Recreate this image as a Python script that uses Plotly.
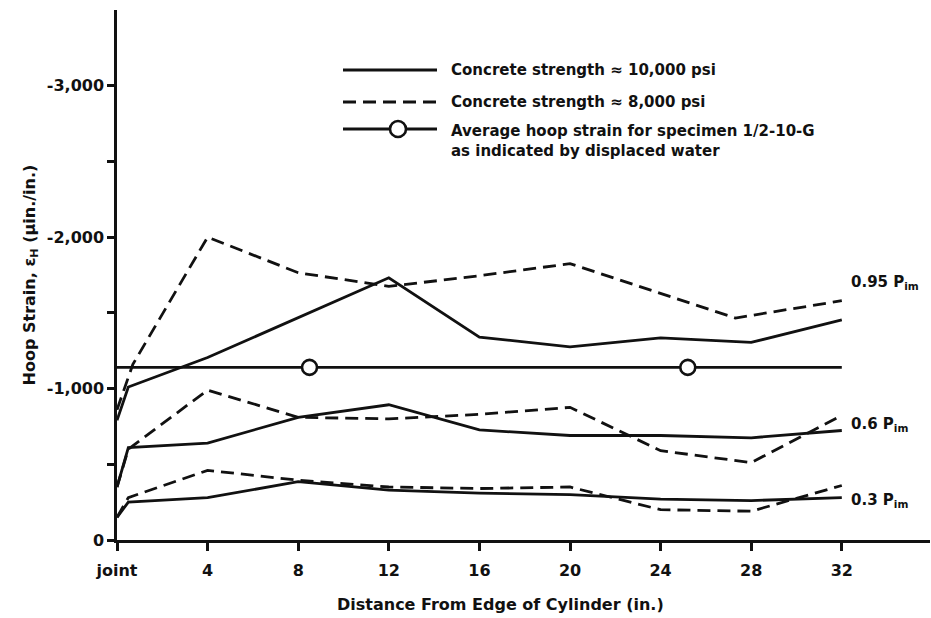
import plotly.graph_objects as go

# ---- data ----
x_pts = [0, 0.5, 4, 8, 12, 16, 20, 24, 28, 32]

s095_solid = [-790, -1010, -1205, -1470, -1732, -1340, -1275, -1335, -1305, -1453]
x095_dash = [0, 0.7, 4, 8, 12, 16, 20, 24, 27.3, 32]
s095_dash = [-860, -1160, -2000, -1765, -1675, -1745, -1825, -1630, -1466, -1580]

s06_solid = [-350, -610, -640, -810, -893, -727, -690, -690, -675, -723]
s06_dash = [-350, -600, -990, -810, -800, -830, -876, -590, -511, -823]

s03_solid = [-150, -250, -280, -385, -330, -310, -300, -270, -260, -280]
s03_dash = [-150, -280, -460, -395, -350, -340, -350, -200, -190, -360]

avg_x = [0, 32]
avg_val = [-1140, -1140]
avg_marker_x = [8.5, 25.2]
avg_marker_val = [-1140, -1140]

x_ticks = [0, 4, 8, 12, 16, 20, 24, 28, 32]
x_ticktext = ["joint", "4", "8", "12", "16", "20", "24", "28", "32"]
y_ticks = [0, -1000, -2000, -3000]
y_ticktext = ["0", "-1,000", "-2,000", "-3,000"]
y_minor_ticks = [-500, -1500, -2500]

load_labels = ["0.95 P<sub>im</sub>", "0.6 P<sub>im</sub>", "0.3 P<sub>im</sub>"]
load_label_vals = [-1700, -760, -260]

legend_texts = ["Concrete strength \u2248 10,000 psi",
                "Concrete strength \u2248 8,000 psi",
                "Average hoop strain for specimen 1/2-10-G<br>as indicated by displaced water"]
x_title = "Distance From Edge of Cylinder (in.)"
y_title = "Hoop Strain, \u03b5<sub>H</sub> (\u03bcin./in.)"

# ---- styling ----
FONT = "DejaVu Sans"
INK = "#111111"
LW = 2.8
DASH = "13px,7px"

fig = go.Figure()

def add_line(x, y, dash):
    fig.add_trace(go.Scatter(x=x, y=y, mode="lines",
                             line=dict(color=INK, width=LW, dash=dash),
                             showlegend=False, hoverinfo="skip"))

add_line(x_pts, s095_solid, "solid")
add_line(x095_dash, s095_dash, DASH)
add_line(x_pts, s06_solid, "solid")
add_line(x_pts, s06_dash, DASH)
add_line(x_pts, s03_solid, "solid")
add_line(x_pts, s03_dash, DASH)
add_line(avg_x, avg_val, "solid")
fig.add_trace(go.Scatter(x=avg_marker_x, y=avg_marker_val, mode="markers",
                         marker=dict(symbol="circle", size=15, color="white",
                                     line=dict(color=INK, width=2.6)),
                         showlegend=False, hoverinfo="skip"))

# right-hand load labels
for txt, v in zip(load_labels, load_label_vals):
    fig.add_annotation(x=32.3, y=v, xref="x", yref="y", text=txt, showarrow=False,
                       xanchor="left", yanchor="middle",
                       font=dict(family=FONT, size=15, color=INK, weight="bold"))

# manual legend (samples in paper pixels)
W, H = 931, 618
L, R, T, B = 117, 1, 10, 78
pw, ph = W - L - R, H - T - B

def px(x):
    return (x - L) / pw

def py(y):
    return 1 - (y - T) / ph

leg_rows = [70, 102, 129]
for i, yy in enumerate(leg_rows):
    fig.add_shape(type="line", xref="paper", yref="paper",
                  x0=px(343), x1=px(437), y0=py(yy), y1=py(yy),
                  line=dict(color=INK, width=LW, dash=DASH if i == 1 else "solid"))
fig.add_shape(type="circle", xref="paper", yref="paper",
              xsizemode="pixel", ysizemode="pixel",
              xanchor=px(398), yanchor=py(129),
              x0=-8, x1=8, y0=-8, y1=8,
              line=dict(color=INK, width=2.6), fillcolor="white")
for i, yy in enumerate(leg_rows):
    fig.add_annotation(x=px(449), y=py(yy if i < 2 else yy - 9), xref="paper", yref="paper",
                       text=legend_texts[i], showarrow=False, align="left",
                       xanchor="left", yanchor="top" if i == 2 else "middle",
                       font=dict(family=FONT, size=15, color=INK, weight="bold"))

# x-axis title (placed as in the reference, slightly left of plot centre)
fig.add_annotation(x=px(500), y=py(604), xref="paper", yref="paper",
                   text=x_title, showarrow=False, xanchor="center", yanchor="middle",
                   font=dict(family=FONT, size=16, color=INK, weight="bold"))

fig.update_layout(
    width=W, height=H,
    margin=dict(l=L, r=R, t=T, b=B),
    paper_bgcolor="white", plot_bgcolor="white",
    font=dict(family=FONT, size=16, color=INK),
    showlegend=False,
)
fig.update_xaxes(range=[0, (W - R - L) / 22.65], showgrid=False, zeroline=False,
                 showline=True, linecolor=INK, linewidth=2.5,
                 ticks="outside", ticklen=8, tickwidth=2.5, tickcolor=INK,
                 tickvals=x_ticks, ticktext=x_ticktext, ticklabelstandoff=6,
                 tickfont=dict(family=FONT, size=16, color=INK, weight="bold"))
fig.update_yaxes(range=[0, -3500], showgrid=False, zeroline=False,
                 showline=True, linecolor=INK, linewidth=2.5,
                 ticks="outside", ticklen=7, tickwidth=2.5, tickcolor=INK,
                 tickvals=y_ticks, ticktext=y_ticktext,
                 minor=dict(tickvals=y_minor_ticks, ticks="outside", ticklen=7,
                            tickwidth=2.5, tickcolor=INK, showgrid=False),
                 tickfont=dict(family=FONT, size=16, color=INK, weight="bold"),
                 title=dict(text=y_title, standoff=8,
                            font=dict(family=FONT, size=16, color=INK, weight="bold")))

fig.write_html("out.html")
